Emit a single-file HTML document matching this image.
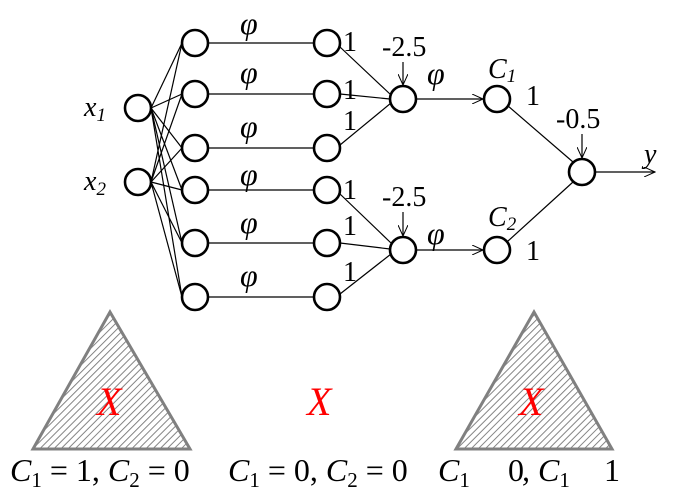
<!DOCTYPE html>
<html><head><style>
body{margin:0;background:#fff;width:692px;height:498px;overflow:hidden}
svg text{font-family:"Liberation Serif",serif}
</style></head><body>
<svg width="692" height="498" viewBox="0 0 692 498">
<defs>
<pattern id="h" width="5" height="5" patternUnits="userSpaceOnUse" patternTransform="rotate(45)">
<rect width="5" height="5" fill="#fff"/><line x1="0" y1="0" x2="0" y2="5" stroke="#777" stroke-width="1.8"/></pattern>
<marker id="a" markerWidth="12" markerHeight="10" refX="11" refY="5" orient="auto" markerUnits="userSpaceOnUse">
<path d="M0,0 L11,5 L0,10" fill="none" stroke="#000" stroke-width="1"/></marker>
</defs>
<g stroke="#000" stroke-width="1.2" fill="none">
<line x1="151" y1="108" x2="182" y2="43"/><line x1="151" y1="108" x2="182" y2="94"/><line x1="151" y1="108" x2="182" y2="148"/><line x1="151" y1="108" x2="182" y2="190"/><line x1="151" y1="108" x2="182" y2="243"/><line x1="151" y1="108" x2="182" y2="297"/>
<line x1="151" y1="182" x2="182" y2="43"/><line x1="151" y1="182" x2="182" y2="94"/><line x1="151" y1="182" x2="182" y2="148"/><line x1="151" y1="182" x2="182" y2="190"/><line x1="151" y1="182" x2="182" y2="243"/><line x1="151" y1="182" x2="182" y2="297"/>
<line x1="208" y1="43" x2="314" y2="43"/><line x1="208" y1="94" x2="314" y2="94"/><line x1="208" y1="148" x2="314" y2="148"/><line x1="208" y1="190" x2="314" y2="190"/><line x1="208" y1="243" x2="314" y2="243"/><line x1="208" y1="297" x2="314" y2="297"/>
<line x1="340" y1="47" x2="391" y2="95"/><line x1="340" y1="94" x2="390" y2="99"/><line x1="340" y1="145" x2="391" y2="103"/>
<line x1="340" y1="194" x2="391" y2="243"/><line x1="340" y1="243" x2="390" y2="249"/><line x1="340" y1="294" x2="391" y2="254"/>
<line x1="416" y1="99" x2="483" y2="99" marker-end="url(#a)"/>
<line x1="416" y1="250" x2="483" y2="250" marker-end="url(#a)"/>
<line x1="508" y1="106" x2="573" y2="162"/><line x1="508" y1="241" x2="573" y2="182"/>
<line x1="596" y1="172" x2="655" y2="172" marker-end="url(#a)"/>
<line x1="403" y1="62" x2="403" y2="85" marker-end="url(#a)"/>
<line x1="403" y1="212" x2="403" y2="236" marker-end="url(#a)"/>
<line x1="582" y1="134" x2="582" y2="158" marker-end="url(#a)"/>
</g>
<g stroke="#000" stroke-width="2.6" fill="#fff">
<circle cx="138" cy="108" r="13"/><circle cx="138" cy="182" r="13"/>
<circle cx="195" cy="43" r="13"/><circle cx="195" cy="94" r="13"/><circle cx="195" cy="148" r="13"/><circle cx="195" cy="190" r="13"/><circle cx="195" cy="243" r="13"/><circle cx="195" cy="297" r="13"/>
<circle cx="327" cy="43" r="13"/><circle cx="327" cy="94" r="13"/><circle cx="327" cy="148" r="13"/><circle cx="327" cy="190" r="13"/><circle cx="327" cy="243" r="13"/><circle cx="327" cy="297" r="13"/>
<circle cx="403" cy="99" r="13"/><circle cx="403" cy="250" r="13"/>
<circle cx="497" cy="99" r="13"/><circle cx="497" cy="250" r="13"/>
<circle cx="582" cy="172" r="13"/>
</g>
<g style="font-size:28px" fill="#000">
<text x="84" y="116" font-style="italic">x<tspan style="font-size:19px" dy="5">1</tspan></text>
<text x="84" y="190" font-style="italic">x<tspan style="font-size:19px" dy="5">2</tspan></text>
<g font-style="italic" style="font-size:32px"><text x="240" y="34">φ</text><text x="240" y="83">φ</text><text x="240" y="137">φ</text><text x="240" y="185">φ</text><text x="240" y="233">φ</text><text x="240" y="286">φ</text><text x="427" y="84">φ</text><text x="427" y="244">φ</text></g>
<text x="343" y="51">1</text><text x="343" y="99">1</text><text x="343" y="130">1</text>
<text x="343" y="199">1</text><text x="343" y="235">1</text><text x="343" y="281">1</text>
<text x="382" y="56">-2.5</text><text x="382" y="206">-2.5</text><text x="556" y="128">-0.5</text>
<text x="526" y="105">1</text><text x="526" y="260">1</text>
<text x="488" y="78" font-style="italic">C<tspan style="font-size:19px" dy="4">1</tspan></text>
<text x="488" y="226" font-style="italic">C<tspan style="font-size:19px" dy="4">2</tspan></text>
<text x="644" y="163" font-style="italic">y</text>
</g>
<polygon points="110,312 33,449 190,449" fill="url(#h)" stroke="#808080" stroke-width="3"/>
<polygon points="534,312 456,449 612,449" fill="url(#h)" stroke="#808080" stroke-width="3"/>
<g fill="#f00" style="font-size:40px" font-style="italic"><text x="97" y="415">X</text><text x="307" y="415">X</text><text x="519" y="415">X</text></g>
<g style="font-size:32px" font-style="italic" fill="#000">
<text x="10" y="481">C<tspan style="font-size:21px" dy="6" font-style="normal">1</tspan><tspan dy="-6" font-style="normal"> = 1, </tspan>C<tspan style="font-size:21px" dy="6" font-style="normal">2</tspan><tspan dy="-6" font-style="normal"> = 0</tspan></text>
<text x="228" y="481">C<tspan style="font-size:21px" dy="6" font-style="normal">1</tspan><tspan dy="-6" font-style="normal"> = 0, </tspan>C<tspan style="font-size:21px" dy="6" font-style="normal">2</tspan><tspan dy="-6" font-style="normal"> = 0</tspan></text>
<text x="438" y="481">C<tspan style="font-size:21px" dy="6" font-style="normal">1</tspan></text>
<text x="508" y="481" font-style="normal">0</text><text x="522" y="481">, C<tspan style="font-size:21px" dy="6" font-style="normal">1</tspan></text>
<text x="604" y="481" font-style="normal">1</text>
</g>
</svg>
</body></html>
